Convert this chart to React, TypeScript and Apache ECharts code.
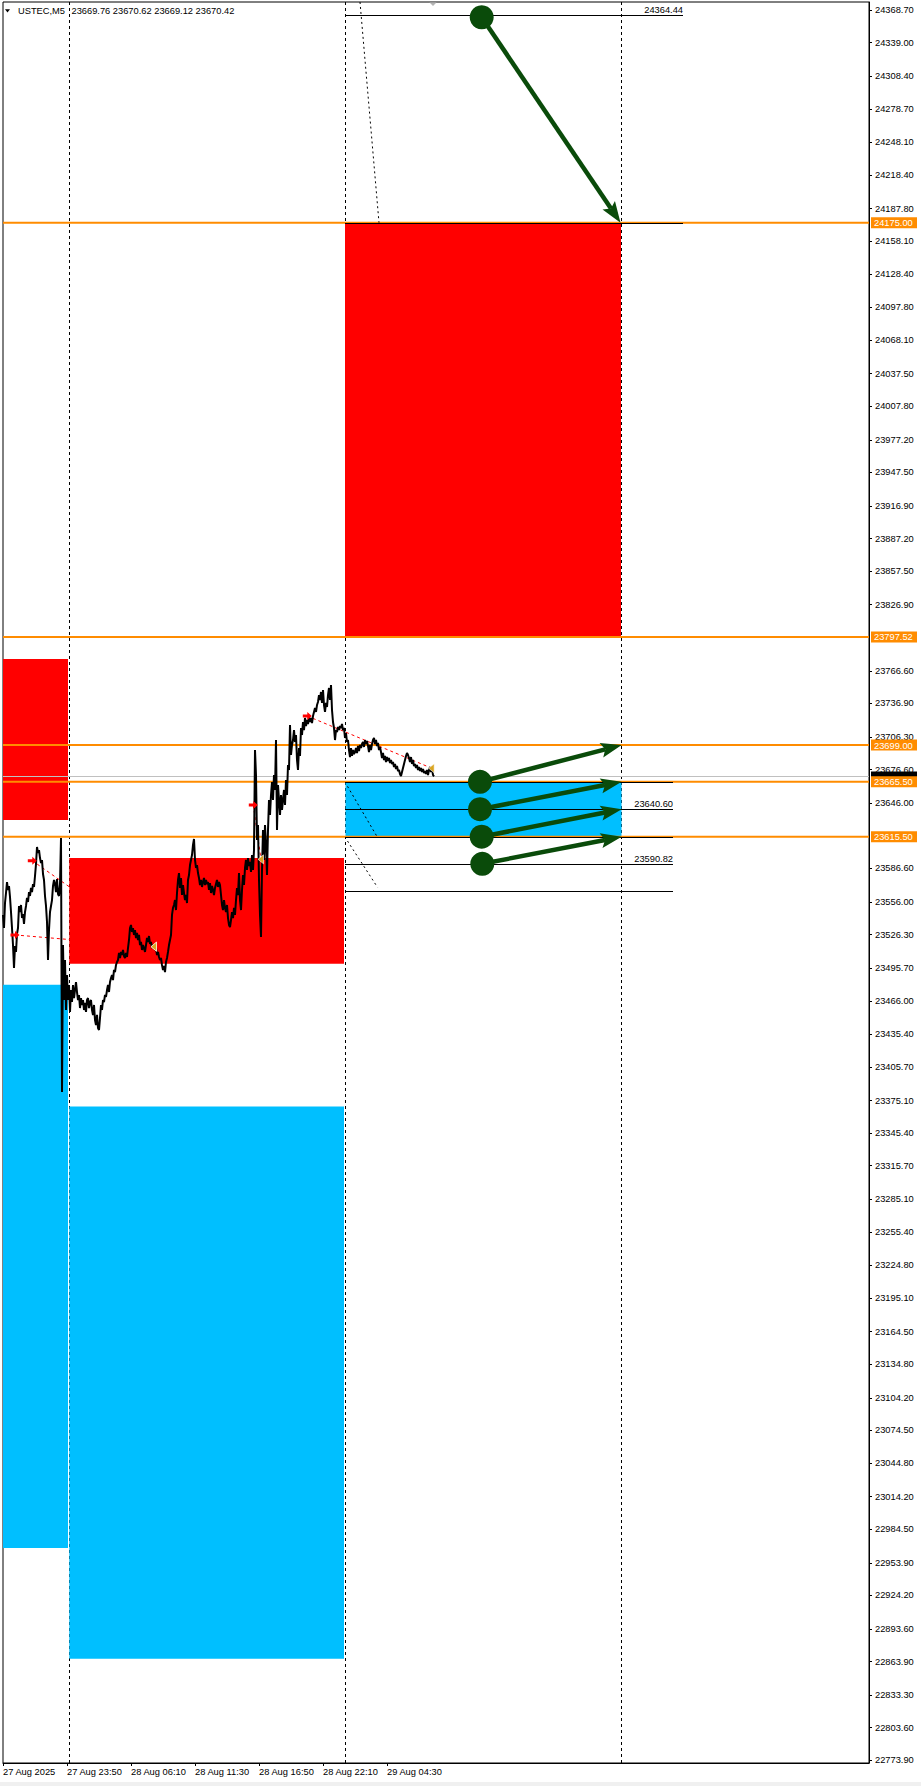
import React, { useEffect, useRef } from "react";
import * as echarts from "echarts";

const FONT = "Liberation Sans, Arial, sans-serif";
const FS = 9.3;
const RED = "#FF0000";
const BLUE = "#00BFFF";
const ORANGE = "#FF8C00";
const GREEN = "#0a4b0a";
const GOLD = "#DAA520";

// ---------- axes ----------
const PRICE_MIN = 22771.47;
const PRICE_MAX = 24376.1;
const BAR_MAX = 866;

const timeLabels = ["27 Aug 2025", "27 Aug 23:50", "28 Aug 06:10", "28 Aug 11:30", "28 Aug 16:50", "28 Aug 22:10", "29 Aug 04:30"];
const timeTickBars = [0, 64, 128, 192, 256, 320, 384];

const priceTicks = [
  24368.7, 24339.0, 24308.4, 24278.7, 24248.1, 24218.4, 24187.8, 24158.1, 24128.4, 24097.8,
  24068.1, 24037.5, 24007.8, 23977.2, 23947.5, 23916.9, 23887.2, 23857.5, 23826.9,
  23766.6, 23736.9, 23706.3, 23676.6, 23646.0, 23586.6, 23556.0, 23526.3, 23495.7,
  23466.0, 23435.4, 23405.7, 23375.1, 23345.4, 23315.7, 23285.1, 23255.4, 23224.8, 23195.1,
  23164.5, 23134.8, 23104.2, 23074.5, 23044.8, 23014.2, 22984.5, 22953.9, 22924.2, 22893.6,
  22863.9, 22833.3, 22803.6, 22773.9,
];

// ---------- header ----------
const symbolName = "USTEC,M5";
const lastBarOHLC = [23669.76, 23670.62, 23669.12, 23670.42];

// ---------- price (M5, one bar per index) ----------
const closeStartBar = 0;
const closes = [
  23544.2, 23532.3, 23555.1, 23564.2, 23574.2, 23567.0, 23570.6, 23560.6, 23546.9, 23532.3,
  23516.8, 23495.9, 23515.9, 23510.5, 23526.9, 23532.3, 23552.4, 23546.9, 23553.3, 23541.4,
  23545.1, 23536.0, 23546.9, 23552.4, 23559.7, 23556.0, 23565.1, 23561.5, 23568.8, 23565.1,
  23572.4, 23569.7, 23579.7, 23590.6, 23606.1, 23600.7, 23603.4, 23596.1, 23591.6, 23594.3,
  23581.5, 23576.1, 23561.5, 23552.4, 23537.8, 23503.2, 23530.5, 23546.9, 23552.4, 23557.8,
  23570.6, 23576.1, 23572.4, 23565.1, 23577.0, 23563.3, 23561.5, 23572.4, 23614.3, 23382.9,
  23516.8, 23466.7, 23503.2, 23457.6, 23489.5, 23466.7, 23480.4, 23455.8, 23475.8, 23464.9,
  23480.4, 23468.5, 23475.8, 23483.1, 23474.0, 23466.7, 23471.3, 23459.4, 23468.5, 23462.2,
  23466.7, 23457.6, 23464.0, 23455.8, 23466.7, 23468.5, 23459.4, 23464.9, 23466.7, 23457.6,
  23453.1, 23462.2, 23448.5, 23443.9, 23453.1, 23441.2, 23439.4, 23450.3, 23462.2, 23457.6,
  23466.7, 23464.9, 23471.3, 23469.5, 23475.8, 23480.4, 23474.0, 23483.1, 23486.8, 23489.5,
  23484.9, 23494.1, 23492.2, 23498.6, 23501.4, 23503.2, 23509.6, 23505.0, 23510.5, 23507.7,
  23512.3, 23506.8, 23505.0, 23509.6, 23505.9, 23514.1, 23521.4, 23532.3, 23535.1, 23528.7,
  23532.3, 23526.0, 23530.5, 23523.2, 23527.8, 23521.4, 23526.0, 23516.8, 23519.6, 23512.3,
  23516.8, 23514.1, 23510.5, 23516.8, 23523.2, 23519.6, 23525.0, 23517.8, 23519.6, 23514.1,
  23516.8, 23515.0, 23512.3, 23514.1, 23507.7, 23510.5, 23505.9, 23503.2, 23505.0, 23498.6,
  23494.1, 23497.7, 23492.2, 23501.4, 23505.0, 23510.5, 23516.8, 23521.4, 23526.0, 23544.2,
  23550.6, 23553.3, 23557.8, 23548.7, 23564.2, 23576.1, 23582.4, 23568.8, 23577.9, 23562.4,
  23571.5, 23564.2, 23557.8, 23562.4, 23555.1, 23576.1, 23580.6, 23589.7, 23594.3, 23598.8,
  23608.0, 23613.4, 23594.3, 23587.0, 23589.7, 23582.4, 23577.9, 23571.5, 23576.1, 23569.7,
  23574.2, 23577.9, 23571.5, 23576.1, 23572.4, 23574.2, 23567.0, 23573.3, 23564.2, 23570.6,
  23567.0, 23562.4, 23568.8, 23572.4, 23576.1, 23569.7, 23574.2, 23571.5, 23562.4, 23553.3,
  23548.7, 23557.8, 23550.6, 23546.9, 23553.3, 23541.4, 23535.1, 23533.2, 23539.6, 23546.9,
  23541.4, 23550.6, 23544.2, 23557.8, 23568.8, 23562.4, 23582.4, 23557.8, 23548.7, 23567.0,
  23580.6, 23571.5, 23587.0, 23594.3, 23585.2, 23596.1, 23588.8, 23592.5, 23583.4, 23598.8,
  23585.2, 23603.4, 23694.5, 23671.7, 23612.5, 23626.2, 23576.1, 23544.2, 23524.1, 23585.2,
  23621.6, 23594.3, 23626.2, 23608.0, 23580.6, 23621.6, 23649.0, 23635.3, 23653.5, 23665.4,
  23649.0, 23671.7, 23658.1, 23703.6, 23621.6, 23662.6, 23649.0, 23635.3, 23653.5, 23639.9,
  23649.0, 23658.1, 23644.4, 23667.2, 23653.5, 23680.9, 23676.3, 23717.3, 23690.0, 23699.1,
  23703.6, 23712.7, 23701.8, 23708.2, 23685.4, 23676.3, 23696.3, 23689.1, 23714.6, 23708.2,
  23720.0, 23712.7, 23723.7, 23716.4, 23721.9, 23718.2, 23724.6, 23720.0, 23723.7, 23719.1,
  23725.5, 23729.2, 23732.8, 23729.2, 23735.5, 23738.3, 23744.6, 23740.1, 23747.4, 23737.4,
  23749.2, 23735.5, 23729.2, 23737.4, 23733.7, 23744.6, 23751.0, 23740.1, 23753.8, 23731.0,
  23720.0, 23714.6, 23703.6, 23712.7, 23710.9, 23715.5, 23712.7, 23716.4, 23714.6, 23718.2,
  23712.7, 23714.6, 23705.5, 23710.0, 23701.8, 23703.6, 23694.5, 23688.1, 23696.3, 23689.1,
  23694.5, 23690.9, 23692.7, 23696.3, 23691.8, 23698.2, 23693.6, 23699.1, 23696.3, 23700.0,
  23701.8, 23697.3, 23703.6, 23700.0, 23702.7, 23698.2, 23692.7, 23699.1, 23694.5, 23700.0,
  23703.6, 23705.5, 23700.0, 23703.6, 23698.2, 23700.9, 23694.5, 23697.3, 23692.7, 23687.2,
  23691.8, 23685.4, 23689.1, 23683.6, 23688.1, 23684.5, 23687.2, 23682.7, 23685.4, 23681.8,
  23683.6, 23679.0, 23681.8, 23677.2, 23679.9, 23675.4, 23676.3, 23672.7, 23670.8, 23674.5,
  23678.1, 23681.8, 23685.4, 23689.1, 23691.8, 23690.0, 23687.2, 23683.6, 23688.1, 23681.8,
  23685.4, 23679.9, 23681.8, 23678.1, 23680.9, 23676.3, 23679.0, 23675.4, 23678.1, 23674.5,
  23677.2, 23673.6, 23675.4, 23672.7, 23676.3, 23671.7, 23676.3, 23679.0, 23674.5, 23678.1,
  23671.7, 23670.42,
];

// ---------- zones ----------
const zoneStart = [0, 0, 66.3, 66.3, 342, 342.5];
const zoneEnd = [65, 65, 341, 341, 618, 618.5];
const zoneHigh = [23777.4, 23480.7, 23596.1, 23369.7, 24175.0, 23665.5];
const zoneLow = [23630.7, 22967.4, 23499.8, 22866.5, 23797.52, 23615.5];
const zoneIsSupply = [1, 0, 1, 0, 1, 0];

// ---------- separators & levels ----------
const separatorBars = [66, 342, 618];
const levelPrices = [24175.0, 23797.52, 23699.0, 23665.5, 23615.5];
const bidPrice = 23670.42;

// ---------- black segments ----------
const segStart = [342, 342, 342, 342, 342, 342, 342];
const segEnd = [680, 680, 670, 670, 670, 670, 670];
const segPrice = [24364.44, 24175.0, 23665.5, 23640.6, 23615.5, 23590.82, 23565.8];
const segLabelled = [1, 0, 0, 1, 0, 1, 0];

// ---------- dotted diagonals ----------
const diagFromBar = [357, 344.5, 344.5];
const diagFromPrice = [24376.1, 23661.4, 23611.6];
const diagToBar = [376, 374, 374.5];
const diagToPrice = [24175.0, 23615.7, 23569.4];

// ---------- trades ----------
const tradeEntryBar = [12, 29.3, 250.3, 304.3];
const tradeEntryPrice = [23526.0, 23593.7, 23644.4, 23725.5];
const tradeExitBar = [151, 151, 258, 428.7];
const tradeExitPrice = [23515.3, 23515.3, 23594.9, 23677.9];

// ---------- green arrows ----------
const arrowFromBar = [478.7, 477, 477, 478.7, 479.3];
const arrowFromPrice = [24362.2, 23665.5, 23640.6, 23615.5, 23590.82];
const arrowToBar = [617.5, 618.7, 618.7, 618.7, 618.7];
const arrowToPrice = [24175.0, 23699.0, 23665.5, 23640.6, 23615.5];

const fmt = (v: number) => v.toFixed(2);

function buildOption() {
  const textBase = { fontFamily: FONT, fontSize: FS };

  const zonesSeries = {
    type: "custom",
    z: 2,
    silent: true,
    encode: { x: [0, 1], y: [2, 3] },
    data: zoneStart.map((s, i) => [s, zoneEnd[i], zoneHigh[i], zoneLow[i], zoneIsSupply[i]]),
    renderItem: (params: any, api: any) => {
      const a = api.coord([api.value(0), api.value(2)]);
      const b = api.coord([api.value(1), api.value(3)]);
      return {
        type: "rect",
        shape: { x: a[0], y: a[1], width: b[0] - a[0], height: b[1] - a[1] },
        style: { fill: api.value(4) === 1 ? RED : BLUE },
      };
    },
  };

  const separatorSeries = {
    type: "custom",
    z: 1,
    silent: true,
    clip: false,
    data: separatorBars.map((b) => [b]),
    encode: { x: 0 },
    renderItem: (params: any, api: any) => {
      const cs = params.coordSys;
      const x = Math.round(api.coord([api.value(0), PRICE_MIN])[0]) + 0.5;
      return {
        type: "line",
        shape: { x1: x, y1: cs.y, x2: x, y2: cs.y + cs.height },
        style: { stroke: "#000", lineWidth: 1, lineDash: [3, 3] },
      };
    },
  };

  const tradeLineSeries = {
    type: "custom",
    z: 1,
    silent: true,
    data: tradeEntryBar.map((b, i) => [b, tradeEntryPrice[i], tradeExitBar[i], tradeExitPrice[i]]),
    encode: { x: [0, 2], y: [1, 3] },
    renderItem: (params: any, api: any) => {
      const a = api.coord([api.value(0), api.value(1)]);
      const b = api.coord([api.value(2), api.value(3)]);
      return {
        type: "line",
        shape: { x1: a[0], y1: a[1], x2: b[0], y2: b[1] },
        style: { stroke: RED, lineWidth: 1, lineDash: [3, 3] },
      };
    },
  };

  // current bid: grey line and black price box (its text sits under the 23665.50 tag)
  const bidSeries = {
    type: "custom",
    z: 3,
    silent: true,
    clip: false,
    data: [[bidPrice]],
    encode: { y: 0 },
    renderItem: (params: any, api: any) => {
      const cs = params.coordSys;
      const y = Math.round(api.coord([0, api.value(0)])[1]) + 0.5;
      const right = cs.x + cs.width;
      return {
        type: "group",
        children: [
          { type: "line", shape: { x1: cs.x, y1: y, x2: right, y2: y }, style: { stroke: "#C0C0C0", lineWidth: 1 } },
          { type: "rect", shape: { x: right + 2, y: y - 5, width: 46, height: 10 }, style: { fill: "#000" } },
        ],
      };
    },
  };

  const levelSeries = {
    type: "custom",
    z: 4,
    silent: true,
    clip: false,
    data: levelPrices.map((p) => [p]),
    encode: { y: 0 },
    renderItem: (params: any, api: any) => {
      const cs = params.coordSys;
      const y = api.coord([0, api.value(0)])[1];
      const right = cs.x + cs.width;
      return {
        type: "group",
        children: [
          { type: "line", shape: { x1: cs.x, y1: y, x2: right, y2: y }, style: { stroke: ORANGE, lineWidth: 2 } },
          { type: "rect", shape: { x: right + 2, y: y - 5.5, width: 46, height: 11 }, style: { fill: ORANGE } },
          {
            type: "text",
            style: { text: fmt(api.value(0)), x: right + 5, y: y + 0.5, fill: "#fff", ...textBase, align: "left", verticalAlign: "middle" },
          },
        ],
      };
    },
  };

  const segmentSeries = {
    type: "custom",
    z: 5,
    silent: true,
    clip: false,
    data: segStart.map((s, i) => [s, segEnd[i], segPrice[i], segLabelled[i]]),
    encode: { x: [0, 1], y: 2 },
    renderItem: (params: any, api: any) => {
      const a = api.coord([api.value(0), api.value(2)]);
      const b = api.coord([api.value(1), api.value(2)]);
      const y = Math.round(a[1]) + 0.5;
      const children: any[] = [
        { type: "line", shape: { x1: a[0], y1: y, x2: b[0], y2: y }, style: { stroke: "#000", lineWidth: 1 } },
      ];
      if (api.value(3) === 1) {
        children.push({
          type: "text",
          style: { text: fmt(api.value(2)), x: b[0], y: y - 1.5, fill: "#000", ...textBase, align: "right", verticalAlign: "bottom" },
        });
      }
      return { type: "group", children };
    },
  };

  const diagSeries = {
    type: "custom",
    z: 5,
    silent: true,
    data: diagFromBar.map((b, i) => [b, diagFromPrice[i], diagToBar[i], diagToPrice[i]]),
    encode: { x: [0, 2], y: [1, 3] },
    renderItem: (params: any, api: any) => {
      const a = api.coord([api.value(0), api.value(1)]);
      const b = api.coord([api.value(2), api.value(3)]);
      return {
        type: "line",
        shape: { x1: a[0], y1: a[1], x2: b[0], y2: b[1] },
        style: { stroke: "#000", lineWidth: 1, lineDash: [2, 3] },
      };
    },
  };

  const priceSeries = {
    type: "line",
    z: 6,
    silent: true,
    symbol: "none",
    data: closes.map((c, i) => [closeStartBar + i, c]),
    lineStyle: { color: "#000", width: 2 },
  };

  const markerSeries = {
    type: "custom",
    z: 7,
    silent: true,
    clip: false,
    data: [
      ...tradeEntryBar.map((b, i) => [b, tradeEntryPrice[i], 0]),
      ...tradeExitBar.map((b, i) => [b, tradeExitPrice[i], 1]),
    ],
    encode: { x: 0, y: 1 },
    renderItem: (params: any, api: any) => {
      const p = api.coord([api.value(0), api.value(1)]);
      const cx = p[0];
      const cy = p[1];
      if (api.value(2) === 0) {
        return {
          type: "polygon",
          shape: {
            points: [
              [cx - 4.5, cy - 1.5], [cx, cy - 1.5], [cx, cy - 4], [cx + 4.5, cy],
              [cx, cy + 4], [cx, cy + 1.5], [cx - 4.5, cy + 1.5],
            ],
          },
          style: { fill: RED },
        };
      }
      return {
        type: "polygon",
        shape: { points: [[cx - 3, cy], [cx + 2.5, cy - 4.5], [cx + 2.5, cy + 4.5]] },
        style: { fill: GOLD, stroke: "#fff", lineWidth: 0.6 },
      };
    },
  };

  const arrowSeries = {
    type: "custom",
    z: 8,
    silent: true,
    clip: false,
    data: arrowFromBar.map((b, i) => [b, arrowFromPrice[i], arrowToBar[i], arrowToPrice[i]]),
    encode: { x: [0, 2], y: [1, 3] },
    renderItem: (params: any, api: any) => {
      const s = api.coord([api.value(0), api.value(1)]);
      const t = api.coord([api.value(2), api.value(3)]);
      const dx = t[0] - s[0];
      const dy = t[1] - s[1];
      const len = Math.sqrt(dx * dx + dy * dy);
      const ux = dx / len;
      const uy = dy / len;
      const nx = -uy;
      const ny = ux;
      const headLen = 21;
      const halfW = 7.5;
      const notch = 4;
      const bx = t[0] - ux * headLen;
      const by = t[1] - uy * headLen;
      const mx = t[0] - ux * (headLen - notch);
      const my = t[1] - uy * (headLen - notch);
      return {
        type: "group",
        children: [
          { type: "line", shape: { x1: s[0], y1: s[1], x2: mx, y2: my }, style: { stroke: GREEN, lineWidth: 4.5 } },
          {
            type: "polygon",
            shape: { points: [[t[0], t[1]], [bx + nx * halfW, by + ny * halfW], [mx, my], [bx - nx * halfW, by - ny * halfW]] },
            style: { fill: GREEN },
          },
          { type: "circle", shape: { cx: s[0], cy: s[1], r: 12 }, style: { fill: GREEN } },
        ],
      };
    },
  };

  return {
    animation: false,
    backgroundColor: "#fff",
    grid: {
      left: 3,
      right: 52,
      top: 2,
      bottom: 23,
      show: true,
      backgroundColor: "#fff",
      borderColor: "#000",
      borderWidth: 1,
    },
    xAxis: {
      type: "value",
      min: 0,
      max: BAR_MAX,
      position: "bottom",
      axisLine: { show: true, onZero: false, lineStyle: { color: "#000", width: 1 } },
      axisTick: { show: true, length: 3, customValues: timeTickBars, lineStyle: { color: "#000" } },
      axisLabel: {
        show: true,
        customValues: timeTickBars,
        formatter: (v: number) => {
          const k = timeTickBars.indexOf(Math.round(v));
          return k >= 0 ? timeLabels[k] : "";
        },
        align: "left",
        margin: 4,
        color: "#000",
        ...textBase,
        showMinLabel: true,
        showMaxLabel: true,
      },
      splitLine: { show: false },
    },
    yAxis: {
      type: "value",
      min: PRICE_MIN,
      max: PRICE_MAX,
      position: "right",
      axisLine: { show: true, onZero: false, lineStyle: { color: "#000", width: 1 } },
      axisTick: { show: true, length: 3, customValues: priceTicks, lineStyle: { color: "#000" } },
      axisLabel: {
        show: true,
        customValues: priceTicks,
        formatter: (v: number) => fmt(v),
        margin: 6,
        color: "#000",
        ...textBase,
        showMinLabel: true,
        showMaxLabel: true,
      },
      splitLine: { show: false },
    },
    graphic: [
      {
        type: "polygon",
        shape: { points: [[5, 9.3], [10, 9.3], [7.5, 12.5]] },
        style: { fill: "#000" },
        z: 100,
      },
      {
        type: "text",
        x: 18,
        y: 11,
        style: { text: symbolName, fill: "#000", ...textBase, verticalAlign: "middle" },
        z: 100,
      },
      {
        type: "text",
        x: 71.5,
        y: 11,
        style: { text: lastBarOHLC.map(fmt).join(" "), fill: "#000", ...textBase, verticalAlign: "middle" },
        z: 100,
      },
      {
        type: "polygon",
        shape: { points: [[429.5, 2.5], [436.5, 2.5], [433, 6]] },
        style: { fill: "#b4b4b4" },
        z: 100,
      },
      {
        type: "rect",
        shape: { x: 0, y: 1782, width: 921, height: 4 },
        style: { fill: "#f0f0f0" },
        z: 100,
      },
    ],
    series: [
      separatorSeries,
      tradeLineSeries,
      zonesSeries,
      bidSeries,
      levelSeries,
      segmentSeries,
      diagSeries,
      priceSeries,
      markerSeries,
      arrowSeries,
    ],
  };
}

export default function App() {
  const ref = useRef<HTMLDivElement>(null);
  useEffect(() => {
    if (!ref.current) return;
    const chart = echarts.init(ref.current, null, { renderer: "svg" });
    chart.setOption(buildOption() as any);
    return () => {
      chart.dispose();
    };
  }, []);
  return (
    <div
      ref={ref}
      style={{ position: "absolute", left: 0, top: 0, width: 921, height: 1786, background: "#fff" }}
    />
  );
}
